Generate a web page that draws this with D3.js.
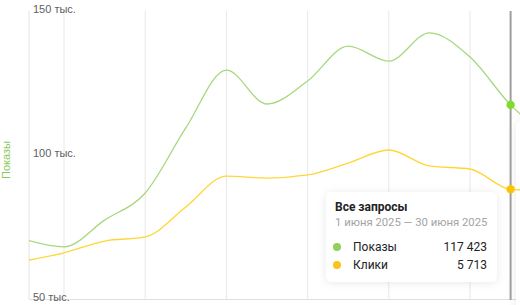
<!DOCTYPE html>
<html>
<head>
<meta charset="utf-8">
<script src="https://cdn.jsdelivr.net/npm/d3@7"></script>
<style>
  html, body { margin: 0; padding: 0; background: #fff; }
  svg { display: block; font-family: "Liberation Sans", Arial, sans-serif; }
  .tip { font-family: Roboto, "Noto Sans", sans-serif; }
</style>
</head>
<body>
<div id="chart"></div>
<script>

var svgWidth = 520;
var svgHeight = 305;

// point indices (the chart is scrolled, first and last points are outside the view)
var points = [-1, 0, 1, 2, 3, 4, 5, 6, 7, 8, 9, 10, 11, 12];

// Показы (impressions)
var shows = [70.8, 68.1, 77.4, 86.8, 109.4, 129.5, 117.7, 125.7, 137.8, 132.6, 142.4, 134.0, 117.4, 105.5].map(d => d * 1000);

// Клики (clicks), drawn on their own hidden scale
var clicks = [1980, 2400, 3020, 3230, 4790, 6400, 6300, 6460, 7080, 7760, 6930, 6770, 5713, 5620];

var yTicks = [50000, 100000, 150000];
var yTickLabels = ["50 тыс.", "100 тыс.", "150 тыс."];
var gridIdx = [0, 2, 4, 6, 8, 10];

var hoverIdx = 11;
var tipTitle = "Все запросы";
var tipPeriod = "1 июня 2025 — 30 июня 2025";
var tipRows = [
  { name: "Показы", value: "117 423", color: "#8fd15a" },
  { name: "Клики", value: "5 713", color: "#fcc419" }
];

var plotLeft = 29, plotRight = 520, plotTop = 11, plotBottom = 299;

var svg = d3.select("#chart")
  .append("svg")
  .attr("width", svgWidth)
  .attr("height", svgHeight);

var defs = svg.append("defs");
defs.append("clipPath").attr("id", "plot")
  .append("rect")
  .attr("x", plotLeft).attr("y", 0)
  .attr("width", plotRight - plotLeft).attr("height", svgHeight);

var shadow = defs.append("filter").attr("id", "shadow")
  .attr("x", "-30%").attr("y", "-30%").attr("width", "160%").attr("height", "160%");
shadow.append("feDropShadow")
  .attr("dx", 0).attr("dy", 1)
  .attr("stdDeviation", 4)
  .attr("flood-color", "#000")
  .attr("flood-opacity", 0.09);

var x = d3.scaleLinear()
  .domain([0, 11])
  .range([64, 510.6]);

var yShows = d3.scaleLinear()
  .domain([50000, 150000])
  .range([plotBottom, plotTop]);

var yClicks = d3.scaleLinear()
  .domain([0, 15000])
  .range([plotBottom, plotTop]);

// grid
svg.append("g")
  .selectAll("line")
  .data(gridIdx)
  .enter()
  .append("line")
  .attr("x1", d => x(d)).attr("x2", d => x(d))
  .attr("y1", plotTop).attr("y2", plotBottom)
  .attr("stroke", "#e8e8e8");

svg.append("line")
  .attr("x1", plotLeft).attr("x2", plotLeft)
  .attr("y1", plotTop).attr("y2", plotBottom)
  .attr("stroke", "#e3e3e3");

svg.append("line")
  .attr("x1", plotLeft).attr("x2", plotRight)
  .attr("y1", plotBottom + 0.5).attr("y2", plotBottom + 0.5)
  .attr("stroke", "#e0e0e0");

// y labels
svg.append("g")
  .selectAll("text")
  .data(yTicks)
  .enter()
  .append("text")
  .attr("x", 33)
  .attr("y", d => yShows(d) + 2)
  .attr("font-size", 11)
  .attr("fill", "#606060")
  .text((d, i) => yTickLabels[i]);

svg.append("text")
  .attr("transform", "translate(10, 160) rotate(-90)")
  .attr("text-anchor", "middle")
  .attr("font-size", 11)
  .attr("fill", "#8cc95a")
  .text("Показы");

// right side panel shadow
svg.append("rect")
  .attr("x", 516).attr("y", 120)
  .attr("width", 60).attr("height", 200)
  .attr("rx", 8)
  .attr("fill", "#fff")
  .attr("filter", "url(#shadow)");

// lines
var plot = svg.append("g").attr("clip-path", "url(#plot)");

var showsLine = d3.line()
  .x((d, i) => x(points[i]))
  .y(d => yShows(d))
  .curve(d3.curveMonotoneX);

var clicksLine = d3.line()
  .x((d, i) => x(points[i]))
  .y(d => yClicks(d))
  .curve(d3.curveMonotoneX);

plot.append("path")
  .attr("d", showsLine(shows))
  .attr("fill", "none")
  .attr("stroke", "#a6d87e")
  .attr("stroke-width", 1.3);

plot.append("path")
  .attr("d", clicksLine(clicks))
  .attr("fill", "none")
  .attr("stroke", "#ffd636")
  .attr("stroke-width", 1.3);

// hover line and dots
var hi = points.indexOf(hoverIdx);
svg.append("line")
  .attr("x1", x(hoverIdx)).attr("x2", x(hoverIdx))
  .attr("y1", plotTop).attr("y2", plotBottom + 1)
  .attr("stroke", "#9e9e9e")
  .attr("stroke-width", 2);

svg.append("circle")
  .attr("cx", x(hoverIdx)).attr("cy", yShows(shows[hi]))
  .attr("r", 4.2).attr("fill", "#80dc2a");

svg.append("circle")
  .attr("cx", x(hoverIdx)).attr("cy", yClicks(clicks[hi]))
  .attr("r", 4.2).attr("fill", "#fcc208");

// tooltip
var tip = svg.append("g").attr("class", "tip").attr("transform", "translate(326, 192)");

tip.append("rect")
  .attr("width", 171).attr("height", 90)
  .attr("rx", 6)
  .attr("fill", "#fff")
  .attr("filter", "url(#shadow)");

tip.append("text")
  .attr("x", 9).attr("y", 19)
  .attr("font-size", 12)
  .attr("font-weight", "bold")
  .attr("fill", "#222")
  .text(tipTitle);

tip.append("text")
  .attr("x", 9).attr("y", 34)
  .attr("font-size", 11.3)
  .attr("fill", "#a3a3a3")
  .text(tipPeriod);

var row = tip.selectAll(".row")
  .data(tipRows)
  .enter()
  .append("g")
  .attr("transform", (d, i) => `translate(0, ${55 + i * 18})`);

row.append("circle")
  .attr("cx", 11).attr("cy", 0)
  .attr("r", 4)
  .attr("fill", d => d.color);

row.append("text")
  .attr("x", 27).attr("y", 4)
  .attr("font-size", 12)
  .attr("fill", "#222")
  .text(d => d.name);

row.append("text")
  .attr("x", 161).attr("y", 4)
  .attr("text-anchor", "end")
  .attr("font-size", 12)
  .attr("fill", "#222")
  .text(d => d.value);

</script>
</body>
</html>
